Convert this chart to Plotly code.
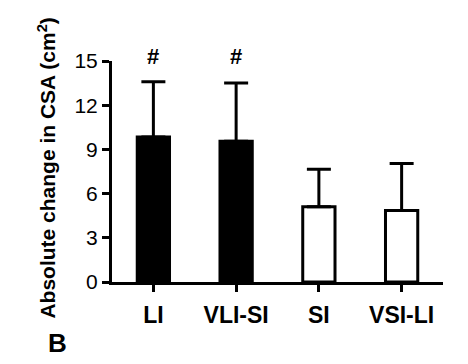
import plotly.graph_objects as go

categories = ["LI", "VLI-SI", "SI", "VSI-LI"]
means = [9.85, 9.55, 5.1, 4.85]
sd_upper = [3.75, 3.95, 2.55, 3.2]
significance = ["#", "#", "", ""]

fill_colors = ["black", "black", "white", "white"]
FONT = "Arial, Liberation Sans, sans-serif"

W, H = 468, 364
ML, MR, MT, MB = 111.5, 25, 61, 82
PW, PH = W - ML - MR, H - MT - MB


def px_to_paper(px, py):
    return (px - ML) / PW, (H - MB - py) / PH


fig = go.Figure()
fig.add_trace(go.Bar(
    x=categories,
    y=means,
    width=0.39,
    marker=dict(color=fill_colors, line=dict(color="black", width=3)),
    error_y=dict(type="data", symmetric=False, array=sd_upper,
                 arrayminus=[0] * len(means), color="black",
                 thickness=3, width=12),
    showlegend=False,
))

sig_y = px_to_paper(0, 56.7)[1]
for cat, s in zip(categories, significance):
    if s:
        fig.add_annotation(x=cat, xref="x", y=sig_y, yref="paper",
                           text="<b>" + s + "</b>", showarrow=False,
                           yanchor="middle",
                           font=dict(family=FONT, size=22, color="black"))

bx, by = px_to_paper(57, 343)
fig.add_annotation(x=bx, y=by, xref="paper", yref="paper", text="<b>B</b>",
                   showarrow=False, xanchor="center", yanchor="middle",
                   font=dict(family=FONT, size=26, color="black"))

tx, ty = px_to_paper(46, 168)
fig.add_annotation(x=tx, y=ty, xref="paper", yref="paper",
                   text="<b>Absolute change in CSA (cm<sup>2</sup>)</b>",
                   textangle=-90, showarrow=False,
                   xanchor="center", yanchor="middle",
                   font=dict(family=FONT, size=21, color="black"))

fig.update_layout(
    width=W, height=H,
    margin=dict(l=ML, r=MR, t=MT, b=MB, pad=0),
    paper_bgcolor="white", plot_bgcolor="white",
    font=dict(family=FONT, color="black"),
)
fig.update_xaxes(
    type="category", range=[-0.5, 3.5],
    showline=True, linecolor="black", linewidth=3,
    ticks="outside", ticklen=7, tickwidth=2.5, tickcolor="black",
    tickfont=dict(family=FONT, size=23, color="black"),
    tickprefix="<b>", ticksuffix="</b>", ticklabelstandoff=3,
    showgrid=False, zeroline=False, automargin=False,
)
fig.update_yaxes(
    range=[0, 15], tickvals=[0, 3, 6, 9, 12, 15],
    showline=True, linecolor="black", linewidth=3,
    ticks="outside", ticklen=7, tickwidth=2.5, tickcolor="black",
    tickfont=dict(family=FONT, size=21, color="black"),
    tickprefix="<b>", ticksuffix="</b>",
    showgrid=False, zeroline=False, automargin=False,
)

fig.write_html("out.html", config={"displayModeBar": False},
               post_script="document.body.style.margin='0';")
